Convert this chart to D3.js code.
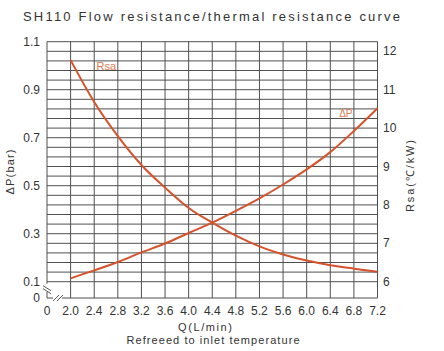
<!DOCTYPE html>
<html>
<head>
<meta charset="utf-8">
<script src="https://cdn.jsdelivr.net/npm/d3@7"></script>
<style>
  body { margin: 0; background: #fff; }
  text { font-family: "Liberation Sans", Arial, sans-serif; fill: #333; }
</style>
</head>
<body>
<svg id="chart" width="444" height="351"></svg>
<script>
// flow values (L/min) and the two curves
const flowTicks = [2.0, 2.4, 2.8, 3.2, 3.6, 4.0, 4.4, 4.8, 5.2, 5.6, 6.0, 6.4, 6.8, 7.2];
const dpValues = [0.114, 0.147, 0.182, 0.222, 0.259, 0.303, 0.346, 0.395, 0.447, 0.505, 0.568, 0.64, 0.728, 0.823];
const rsaValues = [11.77, 10.68, 9.79, 9.04, 8.45, 7.92, 7.54, 7.20, 6.92, 6.71, 6.55, 6.43, 6.34, 6.26];
const leftTicks = [1.1, 0.9, 0.7, 0.5, 0.3, 0.1];
const rightTicks = [6, 7, 8, 9, 10, 11, 12];
const gridStep = 0.04;

const svg = d3.select("#chart");
const lineColor = "#d5522a";
const labelColor = "#e3774a";
const gridColor = "#505050";

// the axis is broken: "0" sits one step left of 2.0 / below 0.1
const x = d3.scaleLinear().domain([1.6, 7.2]).range([47, 377.5]);
const y = d3.scaleLinear().domain([0.1, 1.1]).range([281.7, 41.7]);
const yR = d3.scaleLinear().domain([6, 12.25]).range([281.7, 41.7]);
const xZero = 1.6, yZero = 0.032;

const g = svg.append("g");

// horizontal grid
const hLines = d3.range(0, 26).map(i => 0.1 + i * gridStep);
g.selectAll(".hgrid").data(hLines).join("line")
  .attr("x1", x(xZero)).attr("x2", x(7.2))
  .attr("y1", d => y(d)).attr("y2", d => y(d))
  .attr("stroke", gridColor).attr("stroke-width", 1);

// vertical grid
g.selectAll(".vgrid").data(flowTicks).join("line")
  .attr("x1", d => x(d)).attr("x2", d => x(d))
  .attr("y1", y(1.1)).attr("y2", y(yZero))
  .attr("stroke", gridColor).attr("stroke-width", 1);

// left axis line with a break
g.append("line").attr("x1", x(xZero)).attr("x2", x(xZero))
  .attr("y1", y(1.1)).attr("y2", y(0.1) + 2).attr("stroke", gridColor);
g.append("line").attr("x1", x(xZero)).attr("x2", x(xZero))
  .attr("y1", y(yZero) - 6).attr("y2", y(yZero)).attr("stroke", gridColor);
// bottom axis line with a break
g.append("line").attr("x1", x(xZero)).attr("x2", x(xZero) + 6)
  .attr("y1", y(yZero)).attr("y2", y(yZero)).attr("stroke", gridColor);
g.append("line").attr("x1", x(xZero) + 15).attr("x2", x(7.2))
  .attr("y1", y(yZero)).attr("y2", y(yZero)).attr("stroke", gridColor);

// break marks
[0, 3].forEach(dy => {
  g.append("line")
    .attr("x1", x(xZero) - 4).attr("y1", y(0.1) + 4 + dy)
    .attr("x2", x(xZero) + 4).attr("y2", y(0.1) + 9 + dy)
    .attr("stroke", "#555");
});
[0, 4].forEach(dx => {
  g.append("line")
    .attr("x1", x(xZero) + 6 + dx).attr("y1", y(yZero) + 3)
    .attr("x2", x(xZero) + 12 + dx).attr("y2", y(yZero) - 3)
    .attr("stroke", "#555");
});

// curves
const dpData = flowTicks.map((q, i) => ({ q: q, v: dpValues[i] }));
const rsaData = flowTicks.map((q, i) => ({ q: q, v: rsaValues[i] }));

g.append("path").datum(dpData)
  .attr("fill", "none").attr("stroke", lineColor).attr("stroke-width", 2)
  .attr("d", d3.line().x(d => x(d.q)).y(d => y(d.v)).curve(d3.curveMonotoneX));

g.append("path").datum(rsaData)
  .attr("fill", "none").attr("stroke", lineColor).attr("stroke-width", 2)
  .attr("d", d3.line().x(d => x(d.q)).y(d => yR(d.v)).curve(d3.curveMonotoneX));

// curve labels
g.append("text").attr("x", x(2.44)).attr("y", y(1.0) + 4)
  .style("font-size", "11px").style("fill", labelColor).text("Rsa");
g.append("text").attr("x", x(6.55)).attr("y", y(0.785))
  .style("font-size", "10px").style("fill", labelColor).text("ΔP");

// left ticks
g.selectAll(".lt").data(leftTicks).join("text")
  .attr("x", 40).attr("y", d => y(d) + 4)
  .attr("text-anchor", "end").style("font-size", "12px")
  .text(d => d.toFixed(1));
g.append("text").attr("x", 40).attr("y", y(yZero) + 4)
  .attr("text-anchor", "end").style("font-size", "12px").text("0");

// right ticks
g.selectAll(".rt").data(rightTicks).join("text")
  .attr("x", 383).attr("y", d => yR(d) + 4)
  .style("font-size", "12px").text(d => d);

// bottom ticks
g.selectAll(".bt").data(flowTicks).join("text")
  .attr("x", d => x(d)).attr("y", 315)
  .attr("text-anchor", "middle").style("font-size", "12px")
  .text(d => d.toFixed(1));
g.append("text").attr("x", x(xZero)).attr("y", 315)
  .attr("text-anchor", "middle").style("font-size", "12px").text("0");

// axis titles
g.append("text").attr("x", 205).attr("y", 331)
  .attr("text-anchor", "middle").style("font-size", "11px")
  .attr("textLength", 54).attr("lengthAdjust", "spacing").text("Q(L/min)");
g.append("text").attr("x", 213).attr("y", 344)
  .attr("text-anchor", "middle").style("font-size", "11px")
  .attr("textLength", 173).attr("lengthAdjust", "spacing")
  .text("Refreeed to inlet temperature");
g.append("text").attr("transform", "translate(14,172) rotate(-90)")
  .attr("text-anchor", "middle").style("font-size", "11px")
  .attr("textLength", 45).attr("lengthAdjust", "spacing").text("ΔP(bar)");
g.append("text").attr("transform", "translate(414,176) rotate(-90)")
  .attr("text-anchor", "middle").style("font-size", "11px")
  .attr("textLength", 72).attr("lengthAdjust", "spacing").text("Rsa(℃/kW)");

// title
svg.append("text").attr("x", 23).attr("y", 21)
  .style("font-size", "13px")
  .attr("textLength", 377).attr("lengthAdjust", "spacing")
  .text("SH110 Flow resistance/thermal resistance curve");
</script>
</body>
</html>
